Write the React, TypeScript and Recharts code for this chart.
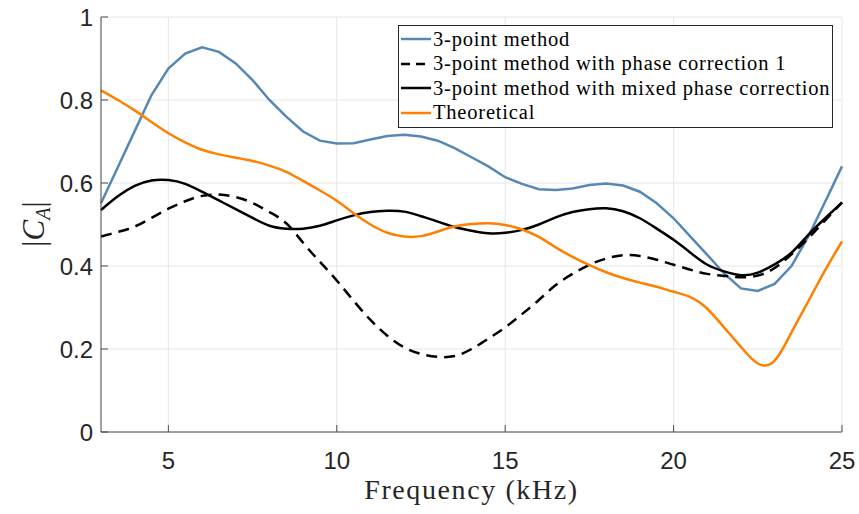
import { LineChart, Line, XAxis, YAxis, CartesianGrid, Legend } from 'recharts';

// frequency samples (kHz), 0.5 kHz steps
const FREQ = [
  3, 3.5, 4, 4.5, 5, 5.5, 6, 6.5, 7, 7.5, 8, 8.5, 9, 9.5, 10, 10.5, 11, 11.5, 12, 12.5, 13, 13.5,
  14, 14.5, 15, 15.5, 16, 16.5, 17, 17.5, 18, 18.5, 19, 19.5, 20, 20.5, 21, 21.5, 22, 22.5, 23, 23.5,
  24, 24.5, 25,
];

const THREE_POINT = [
  0.551, 0.638, 0.725, 0.812, 0.876, 0.912, 0.927, 0.916, 0.888, 0.848, 0.8, 0.76, 0.724, 0.702,
  0.695, 0.696, 0.705, 0.713, 0.716, 0.712, 0.702, 0.684, 0.662, 0.64, 0.614, 0.598, 0.585, 0.583,
  0.587, 0.595, 0.599, 0.594, 0.579, 0.551, 0.515, 0.471, 0.427, 0.382, 0.346, 0.34, 0.357, 0.4,
  0.471, 0.555, 0.64,
];

const PHASE_CORR_1 = [
  0.471, 0.482, 0.495, 0.516, 0.538, 0.556, 0.569, 0.572, 0.566, 0.552, 0.53, 0.503, 0.456, 0.41,
  0.365, 0.316, 0.27, 0.232, 0.204, 0.188, 0.181, 0.183, 0.2, 0.225, 0.252, 0.284, 0.318, 0.354,
  0.381, 0.403, 0.418, 0.426, 0.424, 0.415, 0.403, 0.391, 0.381, 0.376, 0.373, 0.377, 0.395, 0.428,
  0.467, 0.51, 0.553,
];

const MIXED_CORR = [
  0.535, 0.568, 0.593, 0.606, 0.607, 0.598, 0.579, 0.558, 0.537, 0.516, 0.497, 0.49, 0.49, 0.497,
  0.51, 0.522, 0.53, 0.533, 0.531, 0.52, 0.507, 0.494, 0.485, 0.479, 0.48, 0.487, 0.5, 0.517, 0.53,
  0.537, 0.539, 0.532, 0.515, 0.49, 0.463, 0.432, 0.403, 0.387, 0.378, 0.384, 0.404, 0.432, 0.475,
  0.515, 0.553,
];

const THEORETICAL = [
  0.823, 0.8, 0.775, 0.747, 0.72, 0.698, 0.68, 0.669, 0.661, 0.653, 0.642, 0.627, 0.605, 0.582,
  0.557, 0.527, 0.5, 0.48, 0.471, 0.472, 0.483, 0.495, 0.501, 0.503, 0.499, 0.488, 0.47, 0.445,
  0.422, 0.402, 0.385, 0.371, 0.36, 0.35, 0.338, 0.325, 0.297, 0.252, 0.205, 0.165, 0.172, 0.24,
  0.315, 0.39, 0.459,
];

const X_TICKS = [5, 10, 15, 20, 25];
const Y_TICKS = [0, 0.2, 0.4, 0.6, 0.8, 1];

const SERIES = [
  { key: 'tp', name: '3-point method', color: '#5688b4', dash: undefined, curve: 'linear' },
  { key: 'pc1', name: '3-point method with phase correction 1', color: '#000000', dash: '11 7', curve: 'natural' },
  { key: 'mix', name: '3-point method with mixed phase correction', color: '#000000', dash: undefined, curve: 'natural' },
  { key: 'th', name: 'Theoretical', color: '#ff8000', dash: undefined, curve: 'natural' },
] as const;

const data = FREQ.map((f, i) => ({
  f,
  tp: THREE_POINT[i],
  pc1: PHASE_CORR_1[i],
  mix: MIXED_CORR[i],
  th: THEORETICAL[i],
}));

const SANS = '"Liberation Sans", Arial, Helvetica, sans-serif';
const SERIF = '"Liberation Serif", "Times New Roman", serif';

const LegendBox = () => (
  <div
    style={{
      border: '1px solid #262626',
      background: '#fff',
      width: 433,
      height: 100,
      boxSizing: 'content-box',
      paddingTop: 1,
      fontFamily: SERIF,
      fontSize: 20.5,
      color: '#000',
    }}
  >
    {SERIES.map((s) => (
      <div key={s.key} style={{ display: 'flex', alignItems: 'center', height: 24.5, whiteSpace: 'nowrap' }}>
        <svg width={32} height={10} style={{ marginLeft: 2, flexShrink: 0 }}>
          <line x1={0} y1={5} x2={30} y2={5} stroke={s.color} strokeWidth={2.5} strokeDasharray={s.dash ? '9 6' : undefined} />
        </svg>
        <span style={{ letterSpacing: 0.8 }}>{s.name}</span>
      </div>
    ))}
  </div>
);

const YLabel = () => (
  <text
    x={44}
    y={224}
    transform="rotate(-90, 44, 224)"
    textAnchor="middle"
    fontFamily={SERIF}
    fontSize={31}
    fill="#262626"
  >
    |<tspan fontStyle="italic">C</tspan>
    <tspan fontStyle="italic" fontSize={20} dy={6}>A</tspan>
    <tspan dy={-6}>|</tspan>
  </text>
);

export default function App() {
  return (
    <div style={{ position: 'absolute', left: 0, top: 0, background: '#fff' }}>
      <LineChart width={859} height={514} data={data} margin={{ top: 17, right: 17, left: 0, bottom: 0 }}>
        <CartesianGrid stroke="#e6e6e6" strokeWidth={1} />
        {/* negative tickSize -> MATLAB style inward ticks */}
        <XAxis
          dataKey="f"
          type="number"
          domain={[3, 25]}
          ticks={X_TICKS}
          height={82}
          tickSize={-7}
          tickMargin={27}
          stroke="#4d4d4d"
          tick={{ fill: '#262626', fontSize: 24, fontFamily: SANS }}
          label={{
            value: 'Frequency (kHz)',
            position: 'insideBottom',
            offset: 15,
            style: { fontFamily: SERIF, fontSize: 28, fill: '#262626', letterSpacing: 1.6 },
          }}
        />
        <YAxis
          type="number"
          domain={[0, 1]}
          ticks={Y_TICKS}
          width={101}
          tickSize={-7}
          tickMargin={15}
          stroke="#4d4d4d"
          tick={{ fill: '#262626', fontSize: 24, fontFamily: SANS }}
          tickFormatter={(v: number) => (v === 0 || v === 1 ? String(v) : v.toFixed(1))}
          label={{ content: () => <YLabel /> }}
        />
        <Legend
          layout="horizontal"
          align="center"
          verticalAlign="middle"
          content={() => <LegendBox />}
          wrapperStyle={{ position: 'absolute', left: 398, top: 25, width: 'auto', height: 'auto' }}
        />
        {SERIES.map((s) => (
          <Line
            key={s.key}
            dataKey={s.key}
            name={s.name}
            type={s.curve}
            stroke={s.color}
            strokeWidth={2.5}
            strokeDasharray={s.dash}
            dot={false}
            activeDot={false}
            isAnimationActive={false}
          />
        ))}
      </LineChart>
    </div>
  );
}
